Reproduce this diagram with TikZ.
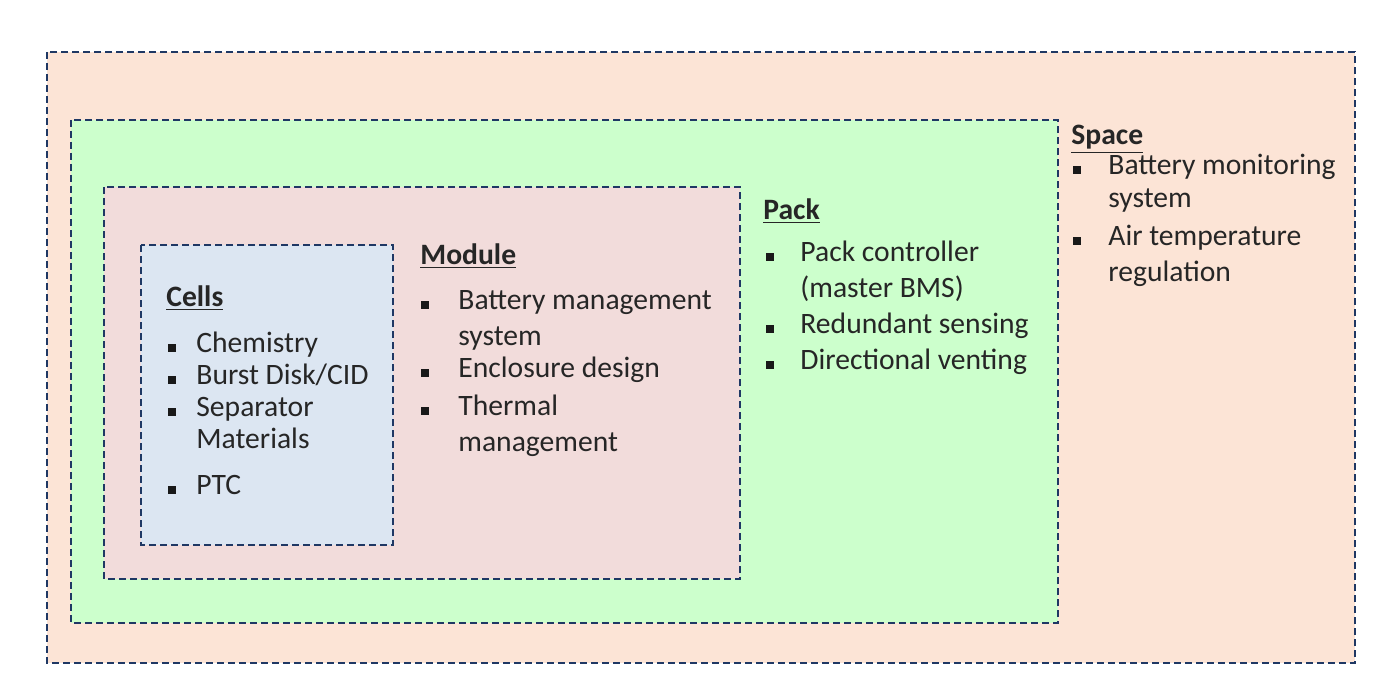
\documentclass[tikz,border=0pt]{standalone}
\usepackage{fontspec}
\setmainfont{Carlito}
\begin{document}
\begin{tikzpicture}[x=0.5pt,y=-0.5pt,
  box/.style={line width=1.3pt,dash pattern=on 3.5pt off 2pt},
  txt/.style={anchor=mid west,inner sep=0pt,font=\fontsize{14.8}{16}\selectfont,text=black!85},
  ttl/.style={txt,font=\fontsize{14.8}{16}\selectfont\bfseries},
  bul/.style={fill=black!90,minimum size=4pt,inner sep=0pt}]
\definecolor{navy}{HTML}{1F3864}
\useasboundingbox (0,0) rectangle (1400,700);
\fill[white] (0,0) rectangle (1400,700);
\draw[box,draw=navy,fill={rgb,255:red,252;green,228;blue,214}] (47,52) rectangle (1355,663);
\draw[box,draw=navy,fill={rgb,255:red,204;green,255;blue,204}] (71,120) rectangle (1058,623);
\draw[box,draw=navy,fill={rgb,255:red,242;green,220;blue,219}] (104,187) rectangle (740,579);
\draw[box,draw=navy,fill={rgb,255:red,220;green,230;blue,242}] (141,245) rectangle (393,545);
\newcommand\itm[4]{\node[bul] at (#1,#2) {}; \node[txt] at (#1+#3,#2) {#4};}
\newcommand\cont[3]{\node[txt] at (#1,#2) {#3};}
% Cells
\node[ttl] (cells) at (166,302) {\underline{Cells}};
\itm{172}{348}{24}{Chemistry}
\itm{172}{380}{24}{Burst Disk/CID}
\itm{172}{412}{24}{Separator}
\cont{196}{444}{Materials}
\itm{172}{490}{24}{PTC}
% Module
\node[ttl] (module) at (420,260) {\underline{Module}};
\itm{425}{305}{33}{Battery management}
\cont{458}{341}{system}
\itm{425}{373}{33}{Enclosure design}
\itm{425}{411}{33}{Thermal}
\cont{458}{447}{management}
% Pack
\node[ttl] (pack) at (763,215) {\underline{Pack}};
\itm{770}{257}{30}{Pack controller}
\cont{800}{293}{(master BMS)}
\itm{770}{329}{30}{Redundant sensing}
\itm{770}{365}{30}{Directional venting}
% Space
\node[ttl] (space) at (1071,140) {\underline{Space}};
\itm{1077}{170}{31}{Battery monitoring}
\cont{1108}{203}{system}
\itm{1077}{241}{31}{Air temperature}
\cont{1108}{277}{regulation}
\end{tikzpicture}
\end{document}
